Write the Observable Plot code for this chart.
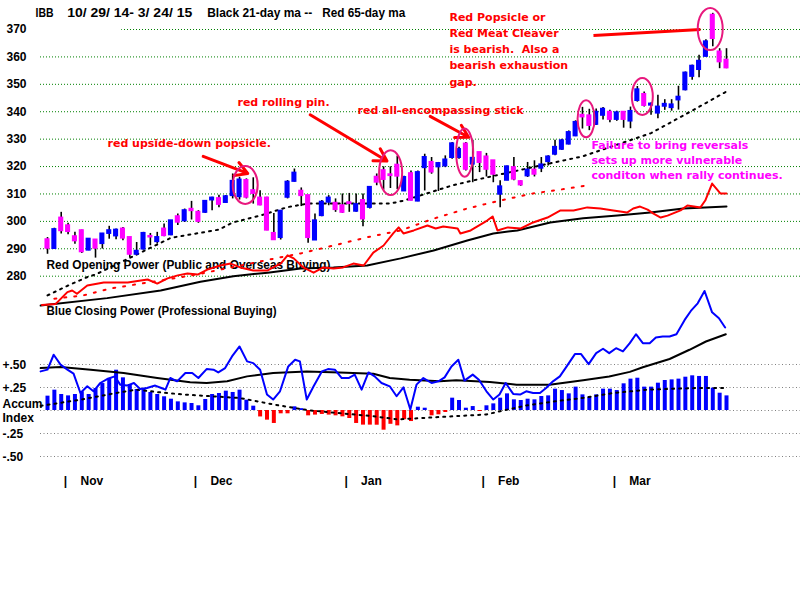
<!DOCTYPE html>
<html><head><meta charset="utf-8">
<script src="https://cdn.jsdelivr.net/npm/d3@7"></script>
<script src="https://cdn.jsdelivr.net/npm/@observablehq/plot@0.6"></script>
<style>
body{margin:0;background:#fff;}
#wrap{position:relative;width:800px;height:600px;overflow:hidden;background:#fff;}
#wrap svg{position:absolute;left:0;top:0;overflow:visible;}
</style></head><body><div id="wrap"></div>
<script>
// ---------- DATA ----------
const titleParts = ["IBB", "10/ 29/ 14- 3/ 24/ 15", "Black 21-day ma --", "Red 65-day ma"];
const priceTicks = [370, 360, 350, 340, 330, 320, 310, 300, 290, 280];
const aiTicks = [0.5, 0.25, 0, -0.25, -0.5];
const aiTickLabels = ["+.50", "+.25", "Accum\nIndex", "-.25", "-.50"];
const monthNames = ["Nov", "Dec", "Jan", "Feb", "Mar"];
const monthDay = [2.62, 21.57, 43.54, 63.51, 82.65];
const labelOP = "Red Opening Power (Public and Overseas Buying)";
const labelCP = "Blue Closing Power (Professional Buying)";

const openP = [293.3,290.1,301.2,298.4,294.4,296.6,289.5,293.2,291.9,295.6,
294.7,297.2,294.1,288.0,289.9,294.5,292.6,297.2,295.1,301.7,
300.2,304.4,303.3,303.3,307.8,308.3,306.9,309.4,309.0,314.9,
311.2,308.5,308.5,295.6,294.1,308.8,314.6,311.0,309.4,293.2,
302.1,307.0,306.6,305.7,306.8,303.7,307.6,305.1,316.1,318.5,
317.0,320.5,311.1,317.4,307.4,319.6,321.5,319.9,320.2,323.3,
323.3,328.2,320.9,325.1,323.5,322.1,309.9,315.0,319.6,314.5,
316.6,318.7,319.4,321.8,324.5,326.3,328.2,331.2,338.7,338.5,
335.4,338.7,339.8,337.2,339.8,336.6,344.1,346.3,342.4,339.5,
342.0,341.5,344.3,348.0,352.9,355.4,360.2,375.2,361.8,358.8];
const closeP = [290.2,297.0,296.6,296.3,292.9,288.9,293.5,290.2,295.4,296.6,
296.8,293.9,288.0,289.1,295.6,294.3,294.1,294.8,300.2,299.7,
303.9,303.9,300.0,307.3,308.5,306.2,309.0,314.6,315.1,308.8,
310.2,306.0,296.8,293.3,303.7,314.3,317.6,309.4,294.1,300.2,
307.0,308.5,304.3,303.3,306.5,306.1,300.9,312.4,314.3,315.3,
316.7,316.5,316.0,307.7,317.8,323.3,318.0,321.1,322.4,328.3,
326.2,319.0,323.0,321.5,319.0,317.2,312.6,319.9,315.4,313.3,
318.7,317.2,320.6,323.5,327.0,329.4,332.4,336.1,338.1,335.0,
339.8,340.9,337.2,339.6,337.2,340.1,348.0,342.3,342.8,341.7,
342.7,342.5,345.3,354.1,356.6,358.4,365.5,366.7,358.2,356.0];
const highP = [294.1,297.5,303.3,299.3,296.0,296.8,293.6,293.4,295.6,298.2,
297.2,297.8,294.1,292.3,296.0,295.6,296.0,299.0,300.2,302.7,
304.5,307.3,303.9,307.6,308.8,309.5,309.4,317.3,316.1,315.5,
315.9,311.2,308.8,302.9,304.0,314.9,319.1,312.2,309.4,302.7,
307.6,309.4,308.2,310.0,310.2,310.0,310.0,312.4,317.3,319.9,
319.9,323.8,316.5,318.4,318.4,324.5,323.3,321.5,323.9,328.8,
327.0,328.8,329.6,325.1,324.8,322.1,314.8,320.2,323.3,314.8,
321.5,322.1,323.3,323.9,329.6,330.0,333.0,336.7,341.6,340.9,
341.0,341.5,340.5,340.2,340.0,341.7,349.2,347.2,343.2,346.0,
344.4,344.4,349.3,354.5,357.0,360.6,366.3,375.9,363.0,363.0];
const lowP = [288.0,289.8,295.4,295.1,291.7,288.3,289.3,286.6,289.9,293.5,
293.3,292.9,286.8,287.8,289.5,291.1,291.7,294.4,294.8,298.5,
299.6,300.5,299.3,302.9,303.9,305.0,306.6,308.2,307.8,308.2,
306.3,305.7,296.6,293.2,293.2,308.2,314.3,305.4,292.0,293.2,
301.7,305.7,303.3,302.9,303.3,303.3,298.0,304.5,313.0,311.4,
312.0,311.6,310.9,307.4,307.2,311.1,317.2,310.9,319.6,322.7,
322.7,318.4,314.1,317.8,316.2,314.1,305.0,314.8,314.8,312.8,
316.0,316.2,317.8,320.2,323.9,325.9,327.9,330.9,333.7,333.1,
335.0,337.0,336.0,336.5,334.0,333.8,343.5,341.7,338.7,337.4,
340.5,340.2,340.6,347.6,351.5,352.4,360.0,363.7,355.7,355.7];

// 21-day (black dotted) and 65-day (red dotted) price moving averages
const ma21Day = [0,3,6,7,18,25,27,31,35,38,44,50,52,59,62,73,78,88,94,99];
const ma21Val = [273.0,276.6,279.9,280.6,294.0,297.0,299.6,302.1,305.2,306.5,306.5,306.5,307.6,313.1,314.9,321.0,323.7,332.2,340.4,347.4];
const ma65Day = [1,5.2,9.2,13.6,19.4,22.3,34,36.9,41.7,46.6,51.5,56.3,61.2,66,70.8,74.8,78.7];
const ma65Val = [271.8,273.0,275.5,277.3,279.6,280.9,286.9,288.3,291.2,294.2,296.7,301.0,304.7,307.6,310.2,311.6,313.1];

// Opening Power (red) and its MA (black), read against the price axis
const opDay = [-0.8,1.2,2.9,3.6,4.3,5.8,8.2,11.7,13.6,14.6,16,17.5,19,20.4,21.9,23.3,25.2,26.7,28.1,30,32.1,32.9,34,35,35.9,37.3,38.8,40.2,41.7,43.1,44.6,46.1,47.5,49,50.4,51.2,51.9,53.4,55.4,56.6,57.7,59.8,60.2,61.7,64.1,64.9,65.6,67.1,69,70.8,72.9,74.8,76.7,78.7,80.6,82.5,84.5,85.4,86.4,87.5,88.3,89.4,90.4,92.3,93.3,95.2,95.9,96.9,98.1,99];
const opVal = [269.5,269.9,274.2,274.8,273.6,276.6,277.7,277.7,278.4,278.8,277.3,279.2,280.3,281.0,280.6,282.4,283.9,284.6,283.2,282.1,282.1,283.2,284.6,287.6,286.5,283.2,281.3,283.2,282.8,283.2,284.6,283.9,288.6,291.2,295.6,297.8,295.6,296.7,298.5,297.4,298.1,297.4,295.6,296.7,300.3,301.8,296.7,297.8,297.4,299.6,301.4,304.0,304.0,305.1,304.7,304.0,303.2,304.7,305.4,304.3,302.9,301.4,302.1,304.0,305.8,305.1,307.6,313.8,310.2,310.2];
const opmaDay = [-1,8.7,16.5,22.3,27.1,32.1,36.9,41.7,46.6,51.5,56.3,61.2,65,68.5,73.3,78.1,83.1,87.9,92.7,99];
const opmaVal = [269.3,272.0,274.8,278.0,280.0,281.3,282.8,283.2,283.9,286.5,289.4,293.0,295.6,296.7,299.6,301.1,302.1,303.2,304.7,305.4];

// Accumulation Index (daily bars)
const aiVal = [0.156,0.221,0.174,0.159,0.174,0.203,0.174,0.239,0.293,0.348,
0.438,0.355,0.283,0.228,0.239,0.196,0.174,0.149,0.123,0.094,
0.083,0.076,0.051,0.120,0.174,0.185,0.210,0.196,0.221,0.112,
0.047,-0.07,-0.105,-0.141,-0.036,-0.036,0.04,0.02,-0.058,-0.05,
-0.043,-0.05,-0.058,-0.069,-0.087,-0.141,-0.159,-0.159,-0.16,-0.214,
-0.15,-0.167,-0.10,-0.12,0.036,0.025,-0.058,-0.047,-0.022,0.134,
0.109,0.025,0.043,-0.011,0.051,0.072,0.134,0.181,0.116,0.109,
0.123,0.116,0.152,0.159,0.232,0.217,0.181,0.254,0.170,0.145,
0.170,0.232,0.232,0.217,0.290,0.341,0.351,0.254,0.254,0.297,
0.326,0.333,0.341,0.362,0.377,0.370,0.370,0.243,0.188,0.159];
const aimaDay = [-1,5,10,13,16,20,28,33,38,43,47.5,51,55,64,66,70,74,78,82.5,87.5,95,99];
const aimaVal = [0.05,0.12,0.19,0.227,0.2,0.173,0.136,0.065,0.003,-0.032,-0.062,-0.097,-0.08,-0.043,-0.008,0.057,0.10,0.136,0.19,0.227,0.245,0.245];

// Closing Power (blue) and its MA (black), read against the Accum Index axis
const cpDay = [-1,0,0.9,1.9,2.9,3.8,4.8,5.8,6.7,7.7,8.7,9.8,10.6,11.6,12.6,13.5,14.5,15.7,16.6,17.2,17.9,18.9,20.1,21.1,22.0,23.2,24.2,24.9,25.9,26.9,28.0,29.1,30.0,31.0,32.0,32.9,33.9,35.1,36.1,36.8,37.8,38.8,40.0,40.9,41.9,42.9,43.9,44.8,45.8,46.8,47.7,48.7,49.9,50.9,51.9,52.9,53.8,54.8,56.0,57.0,57.9,58.9,59.9,60.8,62.0,62.9,64.0,65.0,65.9,66.8,67.9,68.9,69.8,70.8,71.8,72.7,73.7,74.7,75.6,76.9,77.8,78.9,80.0,81.0,81.9,82.9,83.9,84.9,85.8,86.8,87.8,88.7,89.7,90.7,91.7,92.9,93.8,94.8,95.8,96.9,97.9,98.8];
const cpVal = [0.425,0.444,0.606,0.498,0.444,0.40,0.19,0.263,0.209,0.299,0.342,0.371,0.281,0.271,0.299,0.234,0.245,0.271,0.245,0.227,0.353,0.317,0.407,0.407,0.353,0.45,0.444,0.414,0.461,0.588,0.696,0.534,0.515,0.444,0.173,0.119,0.209,0.479,0.552,0.534,0.119,0.263,0.425,0.45,0.444,0.353,0.353,0.39,0.227,0.414,0.371,0.299,0.263,0.155,0.252,0.011,0.281,0.353,0.299,0.317,0.36,0.479,0.552,0.325,0.39,0.335,0.209,0.119,0.173,0.299,0.18,0.173,0.209,0.19,0.19,0.245,0.317,0.371,0.469,0.613,0.613,0.504,0.623,0.671,0.623,0.677,0.642,0.732,0.829,0.732,0.732,0.793,0.804,0.804,0.829,0.985,1.082,1.165,1.299,1.067,1.002,0.902];
const cpmaDay = [-1,1.9,6.3,11.1,16,20.8,23.2,26.2,29.1,32.9,37.8,42.6,47.5,49.9,52.8,57.2,59.6,64.5,68.4,73.2,78.1,81.9,84.9,86.8,90.7,93.6,96,98.9];
const cpmaVal = [0.461,0.472,0.444,0.407,0.353,0.306,0.299,0.317,0.371,0.407,0.425,0.414,0.40,0.353,0.335,0.317,0.328,0.31,0.281,0.281,0.33,0.37,0.42,0.47,0.56,0.66,0.75,0.829];

// Annotations (positions in day / price units)
const annText = ["red upside-down popsicle.", "red rolling pin.", "red all-encompassing stick",
  "Red Popsicle or\nRed Meat Cleaver\nis bearish.  Also a\nbearish exhaustion\ngap."];
const annDay = [8.75, 27.7, 45.2, 58.6];
const annPrice = [328.9, 344.1, 341.1, 363.3];
const noteText = "Failure to bring reversals\nsets up more vulnerable\nconditon when rally continues.";
const noteDay = 79.3, notePrice = 322.8;
const arrowX1 = [22.7, 38.3, 55.8], arrowY1 = [323.7, 338.9, 338.3];
const arrowX2 = [29.2, 49.5, 61.4], arrowY2 = [317.5, 322.0, 330.7];
const linkX1 = [79.6], linkY1 = [367.8], linkX2 = [95.2], linkY2 = [370.0];
const ellDay = [28.9, 50.1, 60.9, 78.6, 86.8, 96.7];
const ellPrice = [313.1, 317.6, 324.9, 337.3, 345.4, 370.0];
const ellHalfDays = [1.82, 1.68, 1.24, 1.24, 1.53, 1.82];
const ellHalfPrice = [6.9, 8.2, 8.8, 6.75, 6.75, 7.7];

// ---------- BUILD ----------
const BLUE = "#0000ff", MAG = "#ff00ff", RED = "#ff0000", GREEN = "#008000", PINK = "#e8187e";
const FONT = "Liberation Sans, Arial, sans-serif";
const AFONT = "DejaVu Sans, sans-serif";
const days = d3.range(openP.length);
const candles = days.map(i => ({day: i, open: openP[i], high: highP[i], low: lowP[i], close: closeP[i]}));
const pts = (a, b) => a.map((d, k) => ({day: d, v: b[k]}));
const aiRows = days.map(i => ({day: i, v: aiVal[i]}));
const annRows = annText.map((t, k) => ({text: t, day: annDay[k], price: annPrice[k]}));
const arrows = arrowX1.map((d, k) => ({x1: d, y1: arrowY1[k], x2: arrowX2[k], y2: arrowY2[k]}));
const links = linkX1.map((d, k) => ({x1: d, y1: linkY1[k], x2: linkX2[k], y2: linkY2[k]}));
const ells = ellDay.map((d, k) => ({day: d, price: ellPrice[k], hd: ellHalfDays[k], hp: ellHalfPrice[k]}));

const titleX = [35, 66.7, 206.7, 321.7];
const titleW = [18, 125, 105, 83];
const xOpt = {domain: [0, 99], range: [47, 726], axis: null};
const boldTxt = {fontFamily: FONT, fontWeight: "bold", fontSize: 12, fill: "black"};

const topPlot = Plot.plot({
  width: 800, height: 500, marginLeft: 40, marginRight: 0, marginTop: 0, marginBottom: 0,
  x: xOpt,
  y: {domain: [280, 370], range: [275.7, 29], axis: null},
  color: {type: "identity"},
  style: {background: "transparent", overflow: "visible"},
  marks: [
    Plot.ruleY(priceTicks, {y: d => d, stroke: GREEN, strokeDasharray: "1,2", strokeWidth: 1}),
    Plot.text([labelOP], {text: d => d, frameAnchor: "top-left", dx: 6, dy: 265, lineAnchor: "middle", textAnchor: "start", ariaDescription: "fit284", ...boldTxt}),
    Plot.text([labelCP], {text: d => d, frameAnchor: "top-left", dx: 6, dy: 311, lineAnchor: "middle", textAnchor: "start", ariaDescription: "fit230", ...boldTxt}),
    Plot.line(pts(ma65Day, ma65Val), {x: "day", y: "v", stroke: RED, strokeWidth: 2, strokeDasharray: "2,8"}),
    Plot.line(pts(ma21Day, ma21Val), {x: "day", y: "v", stroke: "black", strokeWidth: 2, strokeDasharray: "2,5"}),
    Plot.line(pts(opmaDay, opmaVal), {x: "day", y: "v", stroke: "black", strokeWidth: 2}),
    Plot.line(pts(opDay, opVal), {x: "day", y: "v", stroke: RED, strokeWidth: 2}),
    Plot.ruleX(candles, {x: "day", y1: "low", y2: "high", stroke: "black", strokeWidth: 1.6}),
    Plot.rect(candles, {x1: d => d.day - 0.37, x2: d => d.day + 0.37,
      y1: d => Math.min(d.open, d.close), y2: d => Math.max(d.open, d.close),
      fill: d => d.close >= d.open ? BLUE : MAG, insetTop: -1, insetBottom: -1}),
    Plot.text(annRows, {x: "day", y: "price", text: "text", textAnchor: "start", fill: RED,
      fontFamily: AFONT, fontWeight: "bold", fontSize: 11, lineHeight: 1.48, ariaDescription: "annotation"}),
    Plot.text([noteText], {x: () => noteDay, y: () => notePrice, text: d => d, textAnchor: "start", fill: MAG,
      fontFamily: AFONT, fontWeight: "bold", fontSize: 11, lineHeight: 1.36, ariaDescription: "annotation"}),
    Plot.arrow(arrows, {x1: "x1", y1: "y1", x2: "x2", y2: "y2", stroke: RED, strokeWidth: 3, headLength: 7}),
    Plot.link(links, {x1: "x1", y1: "y1", x2: "x2", y2: "y2", stroke: RED, strokeWidth: 3}),
    Plot.text(priceTicks, {y: d => d, text: d => String(d), frameAnchor: "left", dx: -14, textAnchor: "end", ...boldTxt}),
    ...titleParts.map((t, k) => Plot.text([t], {text: d => d, frameAnchor: "top-left", dx: titleX[k] - 40, dy: 13,
      lineAnchor: "middle", textAnchor: "start", ariaDescription: "fit" + titleW[k], ...boldTxt}))
  ]
});

const bottomPlot = Plot.plot({
  width: 800, height: 500, marginLeft: 40, marginRight: 0, marginTop: 0, marginBottom: 19,
  x: xOpt,
  y: {domain: [-0.5, 0.5], range: [456, 364], axis: null},
  color: {type: "identity"},
  style: {background: "transparent", overflow: "visible"},
  marks: [
    Plot.ruleY(aiTicks, {y: d => d, stroke: "#808080", strokeDasharray: "1,2.5", strokeWidth: 1}),
    Plot.ruleX(aiRows, {x: "day", y1: 0, y2: "v", stroke: d => d.v >= 0 ? BLUE : RED, strokeWidth: 4}),
    Plot.line(pts(aimaDay, aimaVal), {x: "day", y: "v", stroke: "black", strokeWidth: 2, strokeDasharray: "2,5"}),
    Plot.line(pts(cpmaDay, cpmaVal), {x: "day", y: "v", stroke: "black", strokeWidth: 2}),
    Plot.line(pts(cpDay, cpVal), {x: "day", y: "v", stroke: BLUE, strokeWidth: 2}),
    Plot.text(aiTickLabels, {y: (d, i) => aiTicks[i], text: d => d, frameAnchor: "left", dx: -38, textAnchor: "start", lineHeight: 1.15, ...boldTxt}),
    Plot.text(monthDay, {x: d => d, text: () => "|", frameAnchor: "bottom", lineAnchor: "middle", textAnchor: "middle", ...boldTxt}),
    Plot.text(monthNames, {x: (d, i) => monthDay[i], text: d => d, frameAnchor: "bottom", lineAnchor: "middle", dx: 15, textAnchor: "start", ...boldTxt})
  ]
});

const wrap = document.getElementById("wrap");
wrap.append(bottomPlot, topPlot);

// fit some label widths to the reference
topPlot.querySelectorAll('g[aria-description^="fit"]').forEach(g => {
  const w = +g.getAttribute("aria-description").slice(3);
  g.querySelectorAll("text").forEach(t => { t.setAttribute("textLength", w); t.setAttribute("lengthAdjust", "spacingAndGlyphs"); });
});
// white background boxes behind annotation text
topPlot.querySelectorAll('g[aria-description="annotation"] text').forEach(t => {
  const bb = t.getBBox();
  const r = document.createElementNS("http://www.w3.org/2000/svg", "rect");
  r.setAttribute("x", bb.x - 2); r.setAttribute("y", bb.y - 1);
  r.setAttribute("width", bb.width + 4); r.setAttribute("height", bb.height + 2);
  r.setAttribute("fill", "white");
  t.parentNode.insertBefore(r, t);
});
// ellipses around highlighted candles, placed with the plot's own scales
const sx = topPlot.scale("x"), sy = topPlot.scale("y");
d3.select(topPlot).append("g").attr("fill", "none").attr("stroke", PINK).attr("stroke-width", 2)
  .selectAll("ellipse").data(ells).join("ellipse")
  .attr("cx", d => sx.apply(d.day)).attr("cy", d => sy.apply(d.price))
  .attr("rx", d => sx.apply(d.day + d.hd) - sx.apply(d.day))
  .attr("ry", d => sy.apply(d.price - d.hp) - sy.apply(d.price));
</script></body></html>
